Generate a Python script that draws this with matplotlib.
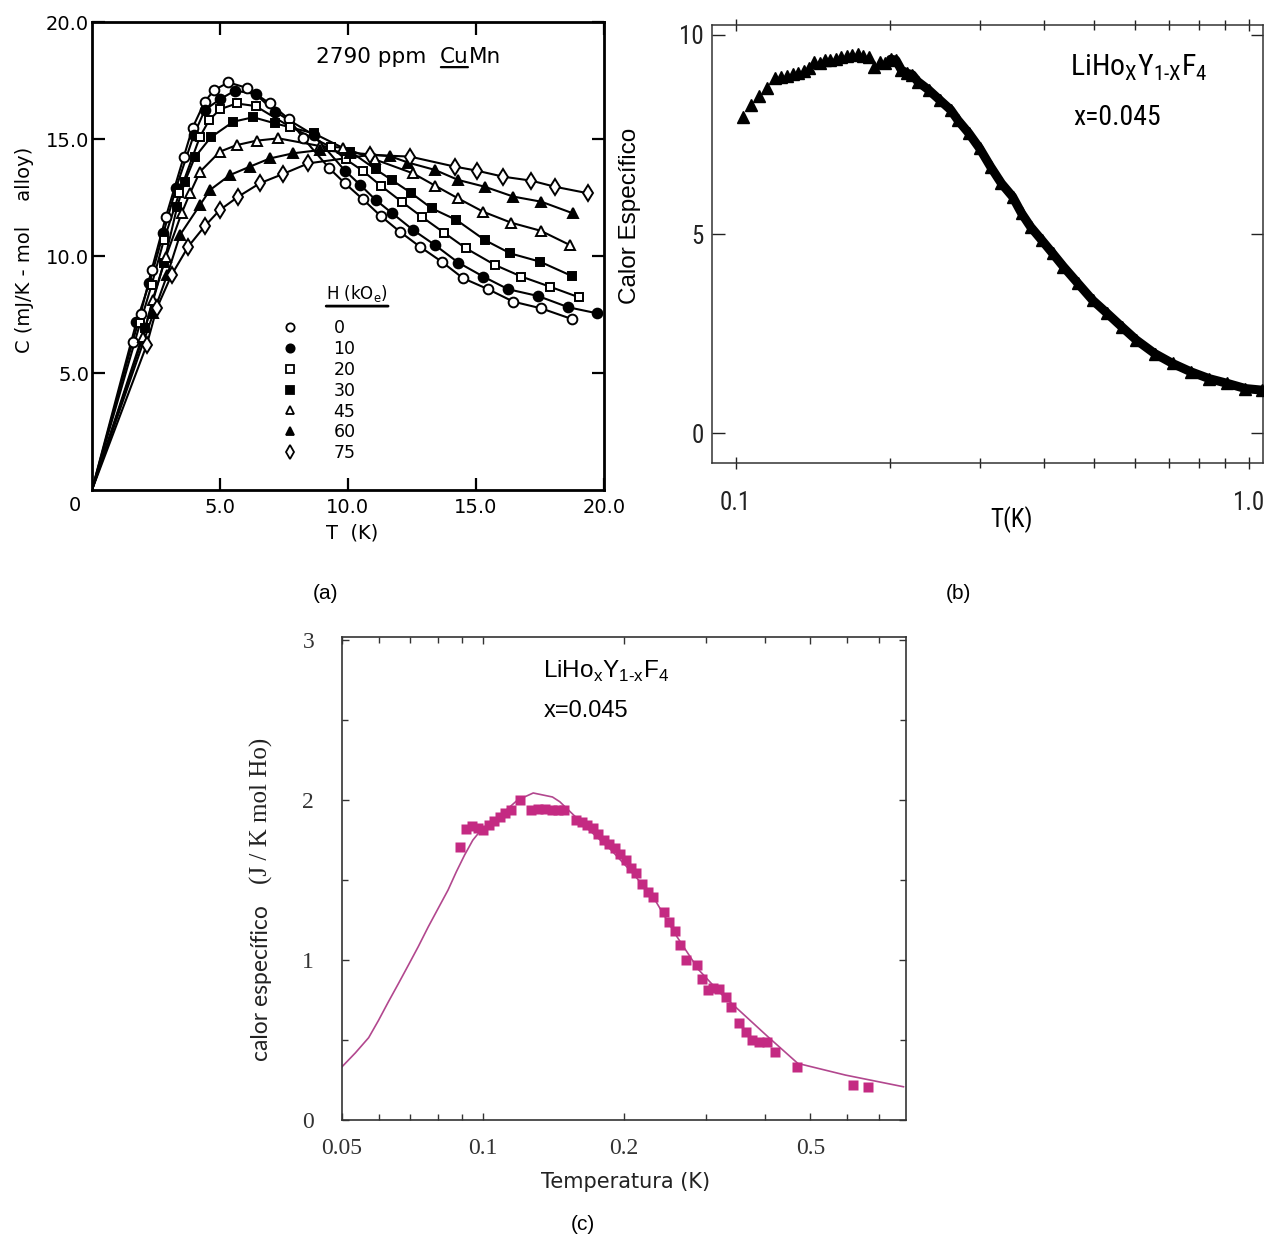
import matplotlib
matplotlib.use('Agg')
import matplotlib.pyplot as plt
import numpy as np
from matplotlib import font_manager
from matplotlib.lines import Line2D
from matplotlib.ticker import FixedLocator, NullFormatter

# ---------------- (a) 2790 ppm CuMn: C(T) for several fields ----------------
fields = ['0', '10', '20', '30', '45', '60', '75']
origin = (0.0, 0.0)  # every curve starts at C(0) = 0

T_H0 = [1.59, 1.90, 2.33, 2.89, 3.59, 3.93, 4.41, 4.77, 5.33, 6.04, 6.95, 7.71, 8.26,
        9.27, 9.88, 10.57, 11.28, 12.03, 12.81, 13.66, 14.50, 15.48, 16.46, 17.56, 18.74]
C_H0 = [6.34, 7.52, 9.40, 11.68, 14.25, 15.48, 16.60, 17.09, 17.42, 17.19, 16.52, 15.84, 15.03,
        13.75, 13.11, 12.44, 11.71, 11.04, 10.40, 9.76, 9.05, 8.58, 8.05, 7.76, 7.31]

T_H10 = [1.74, 2.24, 2.79, 3.28, 3.98, 4.41, 5.00, 5.59, 6.39, 7.15, 8.67, 9.88, 10.49,
         11.09, 11.74, 12.55, 13.40, 14.31, 15.29, 16.26, 17.43, 18.61, 19.74]
C_H10 = [7.19, 8.83, 10.97, 12.89, 15.17, 16.24, 16.70, 17.07, 16.92, 16.17, 15.17, 13.65, 13.03,
         12.39, 11.82, 11.11, 10.47, 9.72, 9.12, 8.58, 8.29, 7.81, 7.55]

T_H20 = [1.88, 2.33, 2.81, 3.41, 4.22, 4.58, 5.00, 5.65, 6.39, 7.73, 9.32, 9.92, 10.57,
         11.28, 12.10, 12.88, 13.75, 14.61, 15.74, 16.78, 17.89, 19.04]
C_H20 = [7.12, 8.76, 10.68, 12.68, 15.10, 15.81, 16.27, 16.52, 16.41, 15.53, 14.67, 14.13, 13.65,
         13.01, 12.32, 11.68, 11.00, 10.33, 9.62, 9.12, 8.69, 8.23]

T_H30 = [2.07, 2.81, 3.33, 3.63, 4.02, 4.64, 5.52, 6.30, 7.15, 8.67, 10.10, 11.09, 11.71,
         12.45, 13.27, 14.24, 15.35, 16.35, 17.50, 18.74]
C_H30 = [6.91, 9.69, 12.11, 13.18, 14.22, 15.07, 15.74, 15.93, 15.67, 15.24, 14.46, 13.70, 13.25,
         12.71, 12.04, 11.54, 10.68, 10.11, 9.76, 9.15]

T_H45 = [2.00, 2.37, 2.89, 3.50, 3.83, 4.22, 5.00, 5.65, 6.43, 7.28, 8.91, 9.82, 11.05,
         12.55, 13.40, 14.31, 15.29, 16.39, 17.53, 18.67]
C_H45 = [6.55, 8.12, 9.97, 11.82, 12.68, 13.60, 14.46, 14.74, 14.93, 15.03, 14.70, 14.63, 14.13,
         13.53, 13.01, 12.46, 11.89, 11.42, 11.08, 10.47]

T_H60 = [2.40, 2.94, 3.44, 4.22, 4.61, 5.39, 6.17, 6.95, 7.86, 8.91, 10.08, 11.64, 12.36,
         13.40, 14.31, 15.35, 16.46, 17.56, 18.80]
C_H60 = [7.55, 9.19, 10.90, 12.18, 12.82, 13.46, 13.82, 14.17, 14.39, 14.53, 14.42, 14.27, 13.99,
         13.68, 13.25, 12.96, 12.54, 12.32, 11.82]

T_H75 = [2.14, 2.53, 3.11, 3.76, 4.41, 5.00, 5.72, 6.56, 7.45, 8.45, 10.86, 12.42, 14.18,
         15.03, 16.07, 17.17, 18.09, 19.39]
C_H75 = [6.20, 7.76, 9.19, 10.40, 11.28, 11.97, 12.54, 13.11, 13.50, 13.96, 14.32, 14.25, 13.82,
         13.65, 13.39, 13.22, 12.96, 12.68]

# ---------------- (b) LiHo_x Y_1-x F_4, x = 0.045 (log T) ----------------
Tb = [0.1033, 0.1073, 0.1112, 0.1153, 0.1193, 0.1227, 0.1257, 0.1295, 0.1325, 0.1360,
      0.1392, 0.1424, 0.1457, 0.1493, 0.1530, 0.1568, 0.1607, 0.1647, 0.1688, 0.1730,
      0.1773, 0.1816, 0.1862, 0.1908, 0.1955, 0.2004, 0.2053, 0.2104, 0.2157, 0.2210,
      0.2265, 0.2378, 0.2498, 0.2625, 0.2712, 0.2849, 0.2991, 0.3141, 0.3298, 0.3466,
      0.3610, 0.3759, 0.3950, 0.4147, 0.4356, 0.4650, 0.4965, 0.5300, 0.5660, 0.6040,
      0.6560, 0.7110, 0.7720, 0.8375, 0.9090, 0.9860, 1.0620]
Cb = [7.95, 8.24, 8.47, 8.66, 8.91, 8.94, 8.97, 9.01, 9.05, 9.10,
      9.16, 9.33, 9.29, 9.36, 9.37, 9.39, 9.44, 9.47, 9.50, 9.51,
      9.47, 9.44, 9.20, 9.33, 9.29, 9.39, 9.37, 9.12, 9.04, 9.00,
      8.83, 8.62, 8.37, 8.12, 7.86, 7.53, 7.15, 6.69, 6.27, 5.94,
      5.52, 5.18, 4.85, 4.52, 4.18, 3.76, 3.34, 3.01, 2.67, 2.34,
      2.00, 1.75, 1.54, 1.37, 1.25, 1.12, 1.08]

# ---------------- (c) calor especifico, data + fit ----------------
Tc = [0.0893, 0.0918, 0.0945, 0.0974, 0.1000, 0.1028, 0.1056, 0.1085, 0.1114, 0.1145,
      0.1197, 0.1264, 0.1310, 0.1358, 0.1407, 0.1446, 0.1486, 0.1580, 0.1630, 0.1670,
      0.1720, 0.1760, 0.1810, 0.1860, 0.1910, 0.1960, 0.2016, 0.2070, 0.2120, 0.2186,
      0.2246, 0.2310, 0.2436, 0.2500, 0.2570, 0.2640, 0.2710, 0.2860, 0.2940, 0.3020,
      0.3100, 0.3190, 0.3300, 0.3390, 0.3520, 0.3645, 0.3750, 0.3880, 0.4030, 0.4200,
      0.4680, 0.6160, 0.6630]
Cc = [1.708, 1.817, 1.838, 1.829, 1.813, 1.844, 1.871, 1.896, 1.917, 1.938,
      2.000, 1.938, 1.942, 1.942, 1.938, 1.938, 1.938, 1.879, 1.865, 1.844,
      1.823, 1.788, 1.754, 1.729, 1.698, 1.663, 1.625, 1.579, 1.542, 1.479,
      1.427, 1.396, 1.302, 1.240, 1.183, 1.094, 1.000, 0.969, 0.879, 0.813,
      0.823, 0.817, 0.771, 0.708, 0.604, 0.552, 0.500, 0.490, 0.490, 0.427,
      0.333, 0.219, 0.208]
Tc_fit = [0.0500, 0.0534, 0.0570, 0.0598, 0.0628, 0.0660, 0.0693, 0.0727, 0.0764, 0.0802,
          0.0842, 0.0877, 0.0913, 0.0951, 0.0990, 0.1040, 0.1110, 0.1184, 0.1280, 0.1407,
          0.1459, 0.1510, 0.1686, 0.1877, 0.2090, 0.2330, 0.2595, 0.2890, 0.3220, 0.3580,
          0.4060, 0.4700, 0.5940, 0.7900]
Cc_fit = [0.333, 0.420, 0.515, 0.622, 0.739, 0.854, 0.969, 1.083, 1.208, 1.323,
          1.438, 1.552, 1.656, 1.750, 1.813, 1.864, 1.927, 2.000, 2.045, 2.020,
          1.990, 1.948, 1.813, 1.688, 1.542, 1.375, 1.146, 0.938, 0.790, 0.667,
          0.520, 0.354, 0.281, 0.208]

# ---------------- fonts ----------------
entries = font_manager.fontManager.ttflist
names = {f.name for f in entries}
narrow_kw, nscale = {'fontfamily': 'Roboto'}, 0.78
for cand in ['Liberation Sans Narrow', 'Roboto Condensed', 'Open Sans Condensed']:
    if cand in names:
        narrow_kw, nscale = {'fontfamily': cand}, 1.0
        break
else:
    if any(f.name == 'DejaVu Sans' and f.stretch == 'condensed' for f in entries):
        narrow_kw, nscale = {'fontfamily': 'DejaVu Sans', 'fontstretch': 'condensed'}, 0.9
plt.rcParams['font.family'] = ['DejaVu Sans']

fig = plt.figure(figsize=(12.7, 12.38), dpi=100)

# ======================= panel (a) =======================
axA = fig.add_axes([0.0724, 0.6042, 0.4031, 0.378])
styles = [('o', 'white', 7), ('o', 'black', 7), ('s', 'white', 6), ('s', 'black', 6),
          ('^', 'white', 7), ('^', 'black', 7), ('d', 'white', 8.5)]
series = [(T_H0, C_H0), (T_H10, C_H10), (T_H20, C_H20), (T_H30, C_H30),
          (T_H45, C_H45), (T_H60, C_H60), (T_H75, C_H75)]
for (T, C), (m, fc, ms) in zip(series, styles):
    axA.plot([origin[0]] + T, [origin[1]] + C, '-', color='k', lw=1.5, zorder=2)
    axA.plot(T, C, ls='none', marker=m, ms=ms, mfc=fc, mec='k', mew=1.4, zorder=3)

axA.set_xlim(0, 20)
axA.set_ylim(0, 20)
axA.set_xticks([5, 10, 15, 20])
axA.set_xticklabels(['5.0', '10.0', '15.0', '20.0'])
axA.set_yticks([5, 10, 15, 20])
axA.set_yticklabels(['5.0', '10.0', '15.0', '20.0'])
axA.tick_params(direction='in', length=9, width=1.6, top=True, right=True,
                labelsize=14)
axA.tick_params(axis='y', pad=2)
axA.tick_params(axis='x', pad=6)
for s in axA.spines.values():
    s.set_linewidth(2)
axA.annotate('0', xy=(0, 0), xytext=(-12, -11), textcoords='offset points',
             ha='center', va='center', fontsize=14)
axA.set_xlabel('T  (K)', fontsize=14)
axA.xaxis.set_label_coords(0.508, -0.072)
axA.set_ylabel('C (mJ/K - mol    alloy)', fontsize=14)
axA.yaxis.set_label_coords(-0.113, 0.513)

t1 = axA.text(0.4375, 0.925, '2790 ppm  ', transform=axA.transAxes, fontsize=15.5,
              va='center', ha='left')
t2 = axA.annotate('Cu', xy=(1, 0), xycoords=t1, va='bottom', ha='left', fontsize=15.5)
axA.annotate('Mn', xy=(1, 0), xycoords=t2, va='bottom', ha='left', fontsize=15.5)
axA.annotate('', xy=(0.97, 0.0), xycoords=t2, xytext=(0.03, 0.0), textcoords=t2,
             arrowprops=dict(arrowstyle='-', lw=1.6, color='k', shrinkA=0, shrinkB=0))

handles = [Line2D([], [], ls='none', marker=m, ms=ms * 0.85, mfc=fc, mec='k', mew=1.3)
           for m, fc, ms in styles]
axA.legend(handles, fields, loc='upper left', bbox_to_anchor=(0.37, 0.366),
           frameon=False, borderpad=0, borderaxespad=0, handlelength=1.0,
           handletextpad=2.0, labelspacing=0.17, fontsize=12.5)
ht = axA.text(0.518, 0.419, r'H (kO$_\mathregular{e}$)', transform=axA.transAxes,
              ha='center', va='center', fontsize=12)
axA.annotate('', xy=(1.0, -0.08), xycoords=ht, xytext=(0.0, -0.08), textcoords=ht,
             arrowprops=dict(arrowstyle='-', lw=2, color='k', shrinkA=0, shrinkB=0))

# ======================= panel (b) =======================
axB = fig.add_axes([0.5606, 0.626, 0.4339, 0.3538])
Tb_arr = np.array(Tb)
Cb_arr = np.array(Cb)
band = Tb_arr >= 0.2
axB.plot(Tb_arr[band], Cb_arr[band], '-', color='k', lw=6.5, solid_capstyle='round',
         solid_joinstyle='round', zorder=2)
axB.plot(Tb_arr, Cb_arr, ls='none', marker='^', ms=8, color='k', zorder=3)
axB.set_xscale('log')
axB.set_xlim(0.0899, 1.067)
axB.set_ylim(-0.75, 10.25)
axB.xaxis.set_major_locator(FixedLocator([0.1, 1.0]))
axB.xaxis.set_major_formatter(plt.FixedFormatter(['0.1', '1.0']))
axB.xaxis.set_minor_locator(FixedLocator([0.2, 0.3, 0.4, 0.5, 0.6, 0.7, 0.8, 0.9]))
axB.xaxis.set_minor_formatter(NullFormatter())
axB.set_yticks([0, 5, 10])
axB.tick_params(which='both', direction='in', top=True, right=True, width=1.0,
                colors='#222222', labelcolor='#222222')
axB.tick_params(axis='x', which='both', direction='inout')
axB.tick_params(which='major', length=9)
axB.tick_params(which='minor', length=7)
axB.tick_params(axis='x', pad=16)
axB.tick_params(axis='y', pad=6)
for lab in axB.get_xticklabels() + axB.get_yticklabels():
    lab.set(**narrow_kw)
    lab.set_fontsize(18 * nscale)
for s in axB.spines.values():
    s.set_linewidth(1.1)
    s.set_color('#333333')
axB.set_xlabel('T(K)', fontsize=18 * nscale, **narrow_kw)
axB.xaxis.set_label_coords(0.544, -0.098)
axB.set_ylabel('Calor Específico', fontfamily='Liberation Sans', fontsize=17.5)
axB.yaxis.set_label_coords(-0.128, 0.564)
axB.text(0.650, 0.902, 'LiHo$_\\mathregular{X}$Y$_\\mathregular{1\u2010X}$F$_\\mathregular{4}$',
         transform=axB.transAxes, fontsize=21.5 * nscale, ha='left', va='center',
         **narrow_kw)
axB.text(0.655, 0.788, 'x=0.045', transform=axB.transAxes, fontsize=20 * nscale,
         ha='left', va='center', **narrow_kw)

# ======================= panel (c) =======================
axC = fig.add_axes([0.2693, 0.0953, 0.4441, 0.3901])
axC.plot(Tc_fit, Cc_fit, '-', color='#b2478e', lw=1.2, zorder=2)
axC.plot(Tc, Cc, ls='none', marker='s', ms=6.5, color='#c42a82', mec='none', zorder=3)
axC.set_xscale('log')
axC.set_xlim(0.05, 0.8)
axC.set_ylim(0, 3.02)
axC.xaxis.set_major_locator(FixedLocator([0.05, 0.1, 0.2, 0.5]))
axC.xaxis.set_major_formatter(plt.FixedFormatter(['0.05', '0.1', '0.2', '0.5']))
axC.xaxis.set_minor_locator(FixedLocator([0.06, 0.07, 0.08, 0.09, 0.3, 0.4, 0.6, 0.7]))
axC.xaxis.set_minor_formatter(NullFormatter())
axC.set_yticks([0, 1, 2, 3])
axC.set_yticks([0.5, 1.5, 2.5], minor=True)
axC.tick_params(which='both', direction='in', top=True, right=True, width=1.0,
                colors='#333333', labelcolor='#333333')
axC.tick_params(which='major', length=5)
axC.tick_params(which='minor', length=4)
axC.tick_params(axis='x', pad=13)
axC.tick_params(axis='y', pad=20)
for lab in axC.get_xticklabels() + axC.get_yticklabels():
    lab.set_fontfamily('Liberation Serif')
    lab.set_fontsize(17)
for s in axC.spines.values():
    s.set_linewidth(1.2)
    s.set_color('#333333')
axC.set_xlabel('Temperatura (K)', fontsize=15, color='#222222')
axC.xaxis.set_label_coords(0.502, -0.108)
axC.text(-0.142, 0.284, 'calor específico', transform=axC.transAxes, rotation=90,
         ha='center', va='center', fontfamily='Lato', fontsize=16.5, color='#222222')
axC.text(-0.142, 0.64, '(J / K mol Ho)', transform=axC.transAxes, rotation=90,
         ha='center', va='center', fontfamily='Liberation Serif', fontsize=18,
         color='#222222')
axC.text(0.356, 0.928, 'LiHo$_\\mathregular{x}$Y$_\\mathregular{1\u2010x}$F$_\\mathregular{4}$',
         transform=axC.transAxes, fontfamily='Liberation Sans', fontsize=17.5,
         ha='left', va='center')
axC.text(0.358, 0.847, 'x=0.045', transform=axC.transAxes, fontfamily='Liberation Sans',
         fontsize=17, ha='left', va='center')

# panel letters
for lbl, x, y in [('(a)', 326, 593), ('(b)', 958, 593), ('(c)', 583, 1225)]:
    fig.text(x / 1270, 1 - y / 1238, lbl, ha='center', va='center',
             fontfamily='Liberation Sans', fontsize=15)

fig.savefig('out.png', dpi=100)
